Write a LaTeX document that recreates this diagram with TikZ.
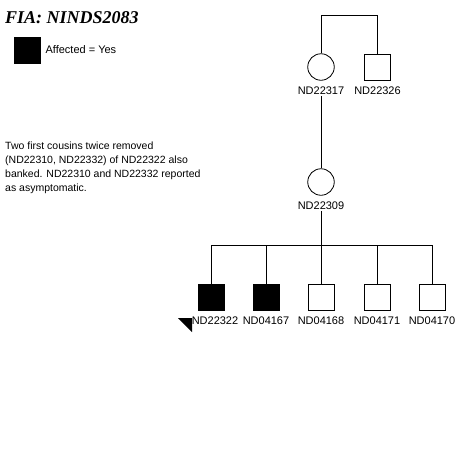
\documentclass[tikz,border=0pt]{standalone}
\usepackage{fontspec}
\setmainfont{Liberation Sans}
\newfontfamily\titlefont{Liberation Serif}
\usetikzlibrary{positioning, calc}
\definecolor{Ink}{HTML}{000000}
\definecolor{Paper}{HTML}{FFFFFF}

\tikzset{
  male/.style={draw=Ink, fill=Paper, line width=0.8pt, minimum size=26pt, inner sep=0pt},
  female/.style={draw=Ink, fill=Paper, circle, line width=0.8pt, minimum size=26.5pt, inner sep=0pt},
  affected/.style={fill=Ink},
  idlabel/.style={font=\fontsize{11pt}{12pt}\selectfont, inner sep=1pt},
  link/.style={draw=Ink, line width=0.8pt}
}

\begin{document}
\begin{tikzpicture}[x=1pt, y=-1pt]
  \useasboundingbox (0,0) rectangle (465,475);

  % title and legend
  \node[anchor=west, inner sep=0pt] (title) at (5,18)
    {\titlefont\fontsize{18pt}{20pt}\selectfont\bfseries\itshape FIA: NINDS2083};
  \node[male, affected, draw=none, minimum size=27pt] (key) at (27.5,50) {};
  \node[idlabel, anchor=west, right=3pt of key] (keytxt) {Affected = Yes};

  % note
  \node[anchor=north west, align=left, inner sep=0pt,
        font=\fontsize{10.5pt}{14pt}\selectfont] (note) at (5,142)
    {Two first cousins twice removed\\
     (ND22310, ND22332) of ND22322 also\\
     banked. ND22310 and ND22332 reported\\
     as asymptomatic.};

  % generation I
  \node[female] (p317) at (321,67) {};
  \node[male] (p326) at (377.5,67) {};
  \node[idlabel, below=5pt of p317] (l317) {ND22317};
  \node[idlabel, below=5pt of p326] (l326) {ND22326};
  \coordinate (mate) at (349,15);
  \draw[link] (p317.north) -- (p317.north |- mate) -| (p326.north);

  % generation II
  \node[female] (p309) at (321,182) {};
  \node[idlabel, below=5pt of p309] (l309) {ND22309};
  \draw[link] (l317.south) -- (p309.north);

  % generation III
  \coordinate (sib) at (321,245);
  \foreach \id/\px/\aff/\dx in {22322/211/affected/4, 04167/266/affected/0,
                                04168/321//0, 04171/377//0, 04170/432//0} {
    \node[male, \aff] (c\id) at (\px,297) {};
    \node[idlabel, below=5pt of c\id, xshift=\dx pt] (lc\id) {ND\id};
    \draw[link] (c\id.north) -- (c\id.north |- sib);
  }
  \draw[link] (c22322.north |- sib) -- (c04170.north |- sib);
  \draw[link] (l309.south) -- (sib);

  % proband marker
  \coordinate (pb) at (192,318);
  \fill[Ink] (pb) -- ++(-14,0) -- ++(14,14) -- cycle;
\end{tikzpicture}
\end{document}
